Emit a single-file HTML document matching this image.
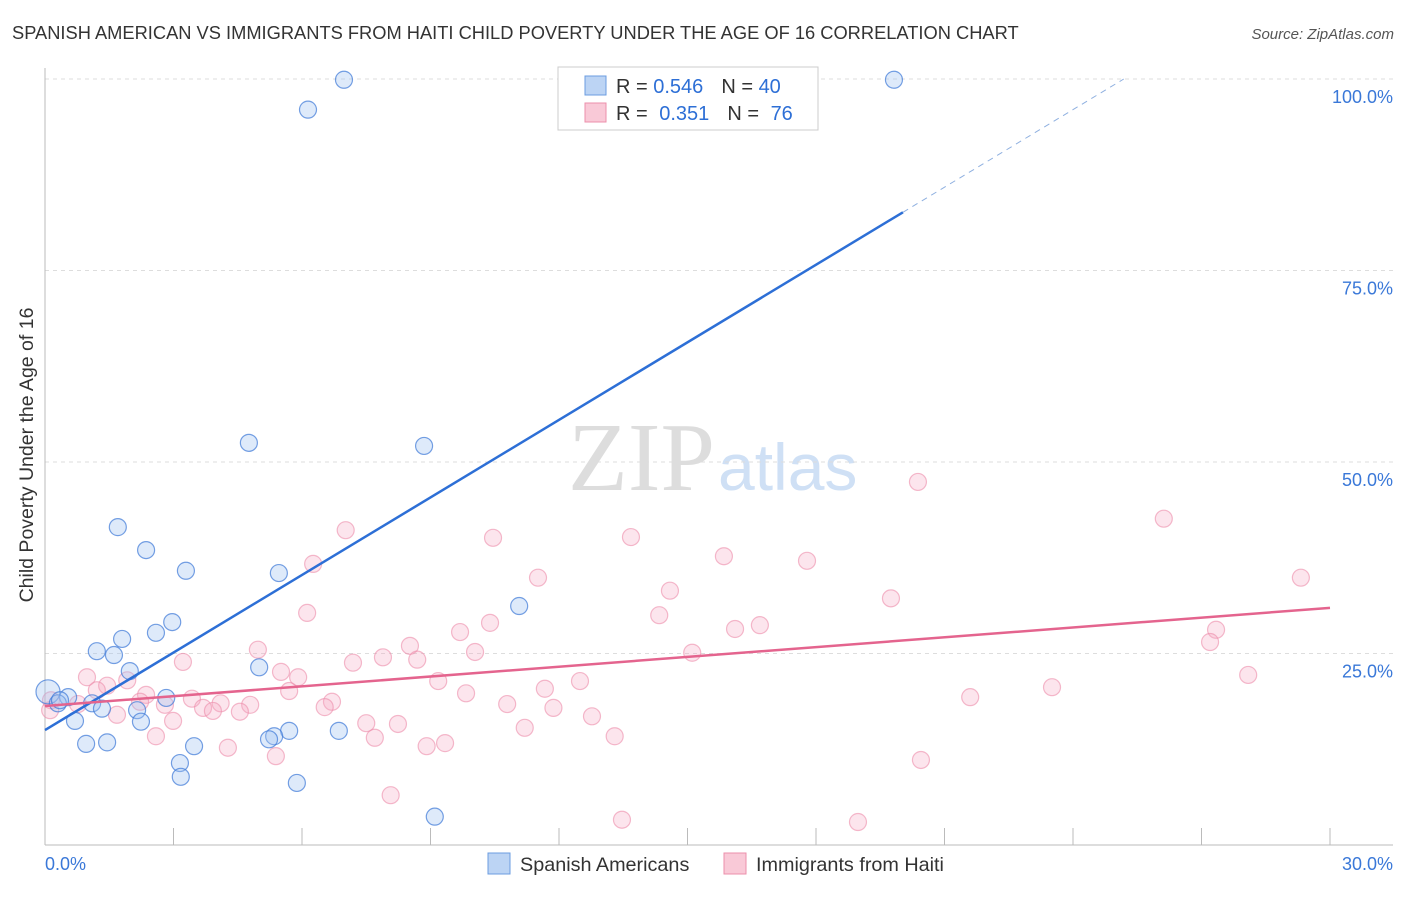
<!DOCTYPE html>
<html><head><meta charset="utf-8"><style>
body{margin:0;background:#fff;font-family:"Liberation Sans",sans-serif}
</style></head><body>
<svg id="c" width="1406" height="892" font-family="Liberation Sans, sans-serif">
<text x="12" y="39" font-size="18.3" fill="#333">SPANISH AMERICAN VS IMMIGRANTS FROM HAITI CHILD POVERTY UNDER THE AGE OF 16 CORRELATION CHART</text>
<text x="1394" y="39" font-size="15" fill="#555" font-style="italic" text-anchor="end">Source: ZipAtlas.com</text>
<text x="33" y="455" font-size="19.5" fill="#333" text-anchor="middle" transform="rotate(-90 33 455)">Child Poverty Under the Age of 16</text>
<text x="715" y="490" font-size="98" fill="#ddd" style="font-family:'Liberation Serif',serif" text-anchor="end">ZIP</text>
<text x="718" y="490" font-size="66" fill="#cfe0f5">atlas</text>
<g id="grid"></g><g id="pts"></g><g id="lines"></g>
<g>
<rect x="558" y="67" width="260" height="63" fill="#fff" stroke="#ccc"/>
<rect x="585" y="76" width="21" height="19" fill="#bcd4f4" stroke="#6b9ce0"/>
<rect x="585" y="103" width="21" height="19" fill="#f9c9d7" stroke="#ec8fab"/>
<text x="616" y="93" font-size="20" fill="#333">R = <tspan fill="#2d6fd6">0.546</tspan><tspan dx="18">N = </tspan><tspan fill="#2d6fd6">40</tspan></text>
<text x="616" y="120" font-size="20" fill="#333">R = <tspan dx="6" fill="#2d6fd6">0.351</tspan><tspan dx="18">N = </tspan><tspan dx="6" fill="#2d6fd6">76</tspan></text>
</g>
<g>
<rect x="488" y="853" width="22" height="21" fill="#bcd4f4" stroke="#6b9ce0"/>
<text x="520" y="871" font-size="19.8" fill="#333">Spanish Americans</text>
<rect x="724" y="853" width="22" height="21" fill="#f9c9d7" stroke="#ec8fab"/>
<text x="756" y="871" font-size="19.8" fill="#333">Immigrants from Haiti</text>
</g>
</svg>
<script>
const xTicks=[0,3,6,9,12,15,18,21,24,27,30];
const yTicks=[25,50,75,100];
const blueX=[6.98,6.14,19.82,4.76,8.85,1.70,2.36,3.29,5.46,11.07,2.97,2.59,1.80,1.21,1.61,5.00,1.98,0.07,0.54,0.30,1.10,2.83,1.33,2.15,0.70,2.24,0.96,1.45,3.48,5.70,5.35,5.23,6.86,3.15,3.17,5.88,9.10,0.35];
const blueY=[99.9,96.0,99.9,52.5,52.1,41.5,38.5,35.8,35.5,31.2,29.1,27.7,26.9,25.3,24.8,23.2,22.7,20.0,19.3,18.5,18.5,19.2,17.8,17.6,16.2,16.1,13.2,13.4,12.9,14.9,14.2,13.8,14.9,10.7,8.9,8.1,3.7,18.9];
const pinkX=[20.38,26.12,7.02,10.46,13.68,15.85,17.79,6.26,11.51,29.32,14.59,19.75,6.12,14.34,10.39,27.34,9.69,16.69,16.11,27.20,8.52,4.97,10.04,15.11,8.69,7.89,7.19,3.22,5.51,28.09,5.91,0.98,1.92,9.18,12.49,1.45,1.21,23.51,11.67,5.70,9.83,21.60,2.36,3.43,2.22,4.10,6.70,0.14,0.77,2.80,4.79,6.53,10.79,3.69,3.92,4.55,11.87,1.68,2.99,7.50,8.24,12.77,11.20,2.59,7.70,13.30,4.27,8.91,9.34,5.39,20.45,8.07,13.47,18.98,0.12];
const pinkY=[47.4,42.6,41.1,40.1,40.2,37.7,37.1,36.7,34.9,34.9,33.2,32.2,30.3,30.0,29.0,28.1,27.8,28.7,28.2,26.5,26.0,25.5,25.2,25.1,24.2,24.5,23.8,23.9,22.6,22.2,21.9,21.9,21.5,21.4,21.4,20.8,20.2,20.6,20.4,20.1,19.8,19.3,19.6,19.1,18.7,18.5,18.7,18.9,18.4,18.3,18.3,18.0,18.4,17.9,17.5,17.4,17.9,17.0,16.2,15.9,15.8,16.8,15.3,14.2,14.0,14.2,12.7,12.9,13.3,11.6,11.1,6.5,3.3,3.0,17.6];
const blueFit=[15.0,3.375], pinkFit=[18.15,0.427];
const X=v=>45+v*1285/30, Y=v=>845-v*766/100;
const NS="http://www.w3.org/2000/svg";
function mk(t,a,p){const e=document.createElementNS(NS,t);for(const k in a)e.setAttribute(k,a[k]);p.appendChild(e);return e;}
const g=document.getElementById('grid'),P=document.getElementById('pts'),L=document.getElementById('lines');
yTicks.forEach(v=>{
 const l=mk('line',{x1:45,x2:1393,y1:Y(v),y2:Y(v),stroke:'#ddd','stroke-dasharray':'4,4'},g);
 
 
 const t=mk('text',{x:1393,y:Y(v)+24,'font-size':18,fill:'#3a78d8','text-anchor':'end'},g);t.textContent=v.toFixed(1)+'%';
 
 
});
const ax=mk('line',{x1:45,x2:45,y1:68,y2:845,stroke:'#bbb'},g);


const xa=mk('line',{x1:45,x2:1393,y1:845,y2:845,stroke:'#bbb'},g);


xTicks.forEach(v=>{const l=mk('line',{x1:X(v),x2:X(v),y1:828,y2:845,stroke:'#bbb'},g);
 
 });
[[0,'0.0%','start',45],[30,'30.0%','end',1393]].forEach(a=>{const t=mk('text',{x:a[3],y:870,'font-size':18,fill:'#3a78d8','text-anchor':a[2]},g);t.textContent=a[1];
 
 });
pinkX.forEach((x,i)=>{const c=mk('circle',{cx:X(x),cy:Y(pinkY[i]),r:8.5,fill:'rgba(246,170,195,0.3)',stroke:'rgba(236,140,170,0.6)','stroke-width':1.2},P);
 
 });
blueX.forEach((x,i)=>{const c=mk('circle',{cx:X(x),cy:Y(blueY[i]),r:i==17?12:8.5,fill:'rgba(160,195,240,0.35)',stroke:'rgba(60,120,215,0.7)','stroke-width':1.2},P);
 
 });
const bxEnd=20.03, bxTop=(100-blueFit[0])/blueFit[1];
const bl=mk('line',{x1:X(0),y1:Y(blueFit[0]),x2:X(bxEnd),y2:Y(blueFit[0]+blueFit[1]*bxEnd),stroke:'#2d6fd6','stroke-width':2.5},L);


const bd=mk('line',{x1:X(bxEnd),y1:Y(blueFit[0]+blueFit[1]*bxEnd),x2:X(bxTop),y2:Y(100),stroke:'#8fb0e0','stroke-width':1,'stroke-dasharray':'6,5'},L);


const pl=mk('line',{x1:X(0),y1:Y(pinkFit[0]),x2:X(30),y2:Y(pinkFit[0]+pinkFit[1]*30),stroke:'#e4648e','stroke-width':2.5},L);


</script>
</body></html>
